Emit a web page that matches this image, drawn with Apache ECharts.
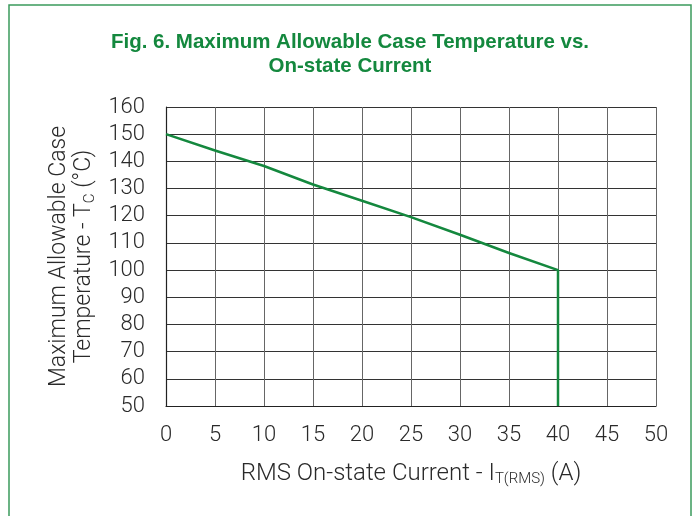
<!DOCTYPE html>
<html><head><meta charset="utf-8">
<script src="https://cdn.jsdelivr.net/npm/echarts@6/dist/echarts.min.js"></script>
<style>html,body{margin:0;padding:0;background:#fff}#c{width:700px;height:516px}</style>
</head><body><div id="c"></div>
<script>
const currentA = [0, 5, 10, 15, 20, 25, 30, 35, 40, 40];
const caseTempC = [150, 144, 138.3, 131.5, 125.5, 119.5, 113, 106.3, 100, 50];
const titleLines = ['Fig. 6. Maximum Allowable Case Temperature vs.', 'On-state Current'];
const xTicks = {min: 0, max: 50, interval: 5};
const yTicks = {min: 50, max: 160, interval: 10};

const chart = echarts.init(document.getElementById('c'), null, {renderer: 'canvas'});
const green = '#14883e';
const font = 'Roboto, Liberation Sans, Arial, sans-serif';
const txt = '#2a2a2a';
chart.setOption({
  animation: false,
  backgroundColor: '#fff',
  graphic: [{
    type: 'rect', shape: {x: 9, y: 5, width: 682, height: 530},
    style: {fill: 'none', stroke: '#3b9a5c', lineWidth: 1.5}, silent: true
  }],
  title: {
    text: titleLines.join('\n'), left: 'center', top: 25,
    textStyle: {color: green, fontFamily: 'Liberation Sans, Arial, sans-serif', fontWeight: 'bold', fontSize: 20.5, lineHeight: 24}
  },
  grid: {left: 166, right: 44, top: 107, bottom: 110},
  xAxis: {
    type: 'value', min: xTicks.min, max: xTicks.max, interval: xTicks.interval,
    axisLine: {show: true, lineStyle: {color: '#222', width: 1.2}},
    axisTick: {show: false},
    splitLine: {show: true, lineStyle: {color: '#666', width: 1}},
    axisLabel: {color: txt, fontSize: 22, fontWeight: 300, fontFamily: font, margin: 18},
    name: 'RMS On-state Current - I{sub|T(RMS)} (A)',
    nameLocation: 'middle', nameGap: 54,
    nameTextStyle: {color: txt, fontSize: 24, fontWeight: 300, fontFamily: font,
      rich: {sub: {fontSize: 15, fontWeight: 300, fontFamily: font, color: txt, padding: [12, 0, 0, 0]}}}
  },
  yAxis: {
    type: 'value', min: yTicks.min, max: yTicks.max, interval: yTicks.interval,
    axisLine: {show: true, lineStyle: {color: '#222', width: 1.2}},
    axisTick: {show: false},
    splitLine: {show: true, lineStyle: {color: '#333', width: 1}},
    axisLabel: {color: txt, fontSize: 22, fontWeight: 300, fontFamily: font, margin: 21},
    name: 'Maximum Allowable Case\nTemperature - T{sub|C} (°C)',
    nameLocation: 'middle', nameGap: 69, nameRotate: 90,
    nameTextStyle: {color: txt, fontSize: 23, fontWeight: 300, fontFamily: font, lineHeight: 25,
      rich: {sub: {fontSize: 15, fontWeight: 300, fontFamily: font, color: txt, padding: [12, 0, 0, 0]}}}
  },
  series: [{
    type: 'line', data: currentA.map((x, i) => [x, caseTempC[i]]),
    showSymbol: false, lineStyle: {color: green, width: 2.5}, itemStyle: {color: green}
  }]
});
</script></body></html>
